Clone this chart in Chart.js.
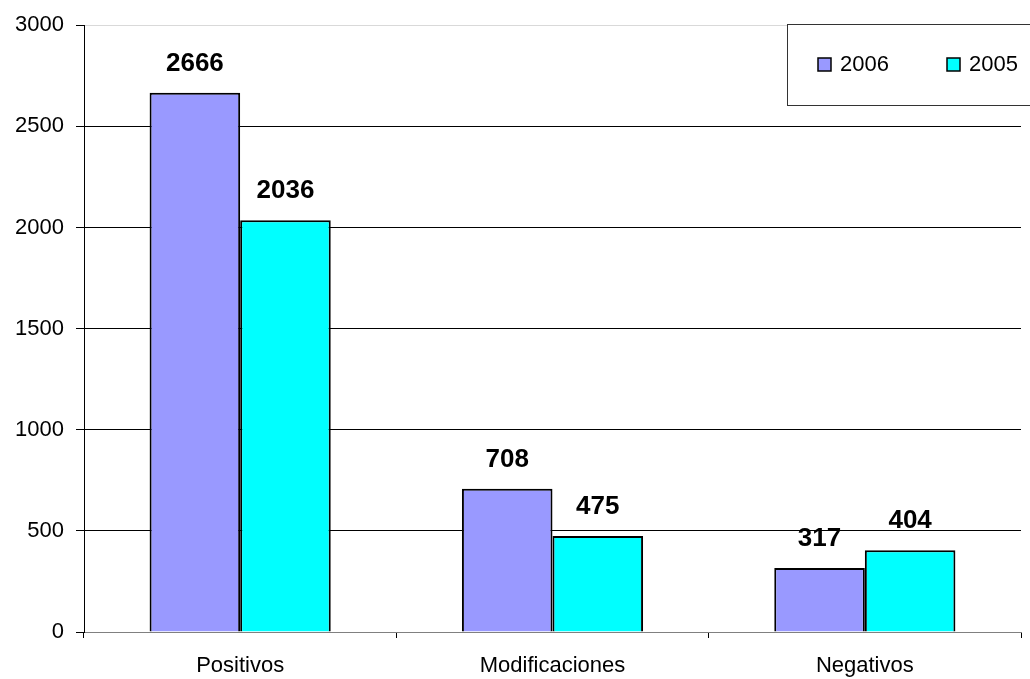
<!DOCTYPE html>
<html>
<head>
<meta charset="utf-8">
<script src="https://cdn.jsdelivr.net/npm/chart.js@4/dist/chart.umd.min.js"></script>
<style>
  html, body { margin: 0; padding: 0; background: #fff; }
  #wrap { width: 1030px; height: 679px; }
</style>
</head>
<body>
<div id="wrap"><canvas id="c" width="1030" height="679"></canvas></div>
<script>
const categories = ['Positivos', 'Modificaciones', 'Negativos'];
const values2006 = [2666, 708, 317];
const values2005 = [2036, 475, 404];
const seriesNames = ['2006', '2005'];
const yTicks = [0, 500, 1000, 1500, 2000, 2500, 3000];

const FONT = '"Liberation Sans", Arial, sans-serif';

// Bold value labels above every bar
const valueLabels = {
  id: 'valueLabels',
  afterDatasetsDraw(chart) {
    const ctx = chart.ctx;
    ctx.save();
    ctx.font = 'bold 26px ' + FONT;
    ctx.fillStyle = '#000';
    ctx.textAlign = 'center';
    ctx.textBaseline = 'alphabetic';
    chart.data.datasets.forEach((ds, i) => {
      chart.getDatasetMeta(i).data.forEach((bar, j) => {
        ctx.fillText(String(ds.data[j]), bar.x, bar.y - 22);
      });
    });
    ctx.restore();
  }
};

// Boxed legend in the upper right corner
const boxLegend = {
  id: 'boxLegend',
  afterDraw(chart) {
    const ctx = chart.ctx;
    const x0 = 787, y0 = 24, w = 260, h = 81;
    ctx.save();
    ctx.fillStyle = '#fff';
    ctx.fillRect(x0, y0, w, h);
    ctx.strokeStyle = '#333';
    ctx.lineWidth = 1;
    ctx.strokeRect(x0 + 0.5, y0 + 0.5, w, h);
    ctx.font = '22px ' + FONT;
    ctx.textBaseline = 'middle';
    ctx.textAlign = 'left';
    const cy = 65;
    const markerX = [818, 947];
    chart.data.datasets.forEach((ds, i) => {
      const mx = markerX[i];
      ctx.fillStyle = ds.backgroundColor;
      ctx.fillRect(mx, cy - 7, 13, 13);
      ctx.strokeStyle = '#000';
      ctx.lineWidth = 1.5;
      ctx.strokeRect(mx, cy - 7, 13, 13);
      ctx.fillStyle = '#000';
      ctx.fillText(ds.label, mx + 22, cy);
    });
    ctx.restore();
  }
};

new Chart(document.getElementById('c'), {
  type: 'bar',
  data: {
    labels: categories,
    datasets: [
      { label: seriesNames[0], data: values2006, backgroundColor: '#9999FF', borderColor: '#000', borderWidth: 2 },
      { label: seriesNames[1], data: values2005, backgroundColor: '#00FFFF', borderColor: '#000', borderWidth: 2 }
    ]
  },
  options: {
    responsive: false,
    animation: false,
    layout: { padding: { top: 20, right: 9, left: 0, bottom: 0 } },
    datasets: { bar: { categoryPercentage: 0.58, barPercentage: 1.0, borderSkipped: 'bottom' } },
    plugins: { legend: { display: false }, tooltip: { enabled: false } },
    scales: {
      x: {
        offset: true,
        afterFit(s) { s.height = 47; },
        grid: { offset: true, drawOnChartArea: false, drawTicks: true, tickLength: 6, color: '#000' },
        border: { display: true, color: '#808080', width: 1 },
        ticks: { color: '#000', font: { family: FONT, size: 22 }, padding: 15 }
      },
      y: {
        min: 0,
        max: 3000,
        afterFit(s) { s.width = 84; },
        afterBuildTicks(s) { s.ticks = yTicks.map(v => ({ value: v })); },
        grid: {
          color: ctx => (ctx.tick && ctx.tick.value === 3000) ? '#d9d9d9' : '#000',
          tickColor: '#000',
          tickLength: 8,
          lineWidth: 1
        },
        border: { display: true, color: '#000', width: 1 },
        ticks: {
          color: '#000',
          font: { family: FONT, size: 22 },
          padding: 12,
          callback: v => String(v)
        }
      }
    }
  },
  plugins: [valueLabels, boxLegend]
});
</script>
</body>
</html>
